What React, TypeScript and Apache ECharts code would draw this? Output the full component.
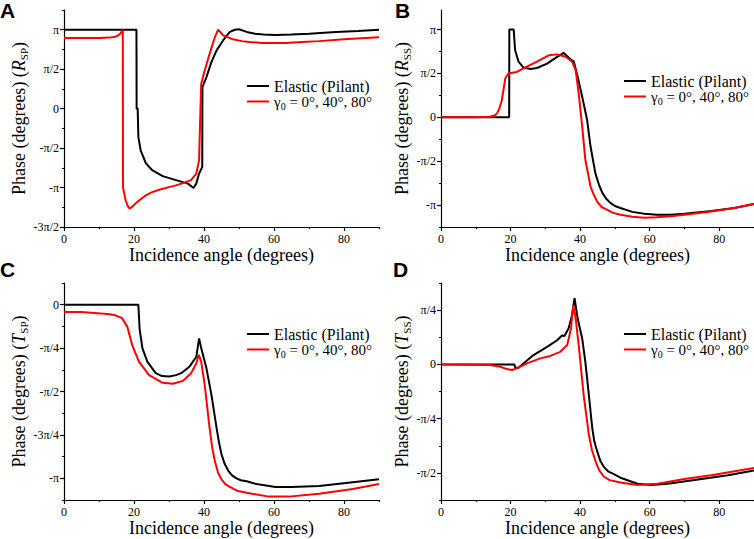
import React, { useEffect, useRef } from 'react';
import * as echarts from 'echarts';

const ELASTIC = 'Elastic (Pilant)';
const GAMMA = 'γ0 = 0°, 40°, 80°';
const X_TITLE = 'Incidence angle (degrees)';

const xMajorTicks = [0, 20, 40, 60, 80];
const xMinorTicks = [10, 30, 50, 70, 90];
const xTickLabels = ['0', '20', '40', '60', '80'];

// Panel A: R_SP
const aRange = [-270, 225];
const aMajorTicks = [-270, -180, -90, 0, 90, 180];
const aTickLabels = ['-3π/2', '-π', '-π/2', '0', 'π/2', 'π'];
const aMinorTicks = [-225, -135, -45, 45, 135, 225];
const rspElastic: number[][] = [
  [0, 180], [20.7, 180], [20.75, 0], [21.05, 0], [21.25, -65], [21.9, -95], [23.4, -125], [25.3, -141],
  [28.2, -154], [32, -163], [35.4, -171], [37, -181], [37.8, -171], [38.6, -148], [39.5, -133], [39.55, 49],
  [40.7, 72], [42.1, 106], [43.6, 133], [45.5, 156], [47.4, 175], [48.8, 180], [50, 181], [52.2, 175],
  [54.6, 171], [57, 169], [60.4, 168], [65, 169], [70, 171], [77.7, 175], [84, 177], [90, 180],
];
const rspGamma: number[][] = [
  [0, 161], [10, 161], [13, 162], [14.7, 164], [15.5, 167], [16.2, 172], [16.8, 180], [16.85, -179],
  [17.6, -209], [18.2, -222], [18.75, -228], [19.5, -224], [20.5, -216], [22, -206], [23.4, -198], [25, -191],
  [27.2, -185], [30, -179], [32, -175], [34, -170], [36.3, -163], [37.8, -148], [38.6, -118], [38.9, -27],
  [39.2, 57], [40.2, 87], [41.6, 125], [43.1, 163], [44.05, 180], [45.5, 167], [47.9, 159], [50.8, 154],
  [53, 152], [56.5, 150], [60, 150], [63.3, 150], [68, 152], [72.9, 154], [80, 158], [90, 163],
];

// Panel B: R_SS
const bRange = [-225, 220];
const bMajorTicks = [-180, -90, 0, 90, 180];
const bTickLabels = ['-π', '-π/2', '0', 'π/2', 'π'];
const bMinorTicks = [-225, -135, -45, 45, 135];
const rssElastic: number[][] = [
  [0, 0], [19.6, 0], [19.65, 180], [20.9, 180], [21.3, 138], [22.3, 114], [23.7, 102], [25.7, 99],
  [27.6, 101], [30.5, 110], [33.4, 124], [35.3, 132], [37.2, 119], [38.2, 114], [39.3, 83], [40.6, 42],
  [42, -5], [43, -60], [44.4, -115], [45.4, -138], [46.4, -155], [47.5, -167], [48.8, -176], [50, -182],
  [51.6, -186], [55, -194], [58.5, -198], [62, -200], [66, -200], [70, -198], [77.7, -192], [84.4, -186], [90, -178],
];
const rssGamma: number[][] = [
  [0, 0], [10, 0], [12, 0.5], [14.1, 1], [15.5, 4], [16.1, 8], [16.8, 18], [17.5, 35], [18, 58],
  [18.5, 80], [19.4, 90], [21.8, 93], [24.7, 104], [27.6, 114], [31, 127], [33.4, 129], [35.8, 124],
  [37.7, 114], [38.7, 97], [39.6, 49], [40.6, -19], [41.5, -87], [43, -142], [44, -160], [44.9, -173],
  [46.2, -184], [47.8, -190], [49.5, -196], [51.6, -200], [55, -204], [58.5, -206], [62, -205], [66, -203],
  [70, -200], [77.7, -193], [84.4, -186], [90, -178],
];

// Panel C: T_SP
const cRange = [-202.5, 22.5];
const cMajorTicks = [-180, -135, -90, -45, 0];
const cTickLabels = ['-π', '-3π/4', '-π/2', '-π/4', '0'];
const cMinorTicks = [-202.5, -157.5, -112.5, -67.5, -22.5, 22.5];
const tspElastic: number[][] = [
  [0, 0], [21.25, 0], [21.6, -25], [22.4, -45], [23.8, -59], [26.2, -71], [28, -74], [30.1, -74.5],
  [32, -73], [33.5, -71], [35.9, -64], [37.8, -54], [38.6, -35], [39.2, -45], [40.7, -66], [42.1, -93],
  [43.6, -128], [44.3, -143], [45, -155], [45.9, -165], [46.9, -172], [48, -177], [49.3, -180], [50.5, -182],
  [52.2, -183], [55, -186], [60.4, -189], [65, -189], [72.9, -188], [82.5, -184], [90, -181],
];
const tspGamma: number[][] = [
  [0, -7.5], [5, -7.5], [10.4, -9], [13, -10], [14.7, -11], [16.6, -14], [18.1, -23], [19.5, -42],
  [21.4, -59], [24.3, -73], [28.2, -81], [31.1, -82], [34, -79], [36.3, -71], [37.8, -61], [38.5, -52],
  [39.2, -59], [40.2, -83], [41.6, -128], [42.3, -147], [43.1, -162], [44, -174], [45, -181], [46.1, -186],
  [47.4, -189], [49.5, -193], [52.2, -195], [58.5, -199], [64.2, -199], [72.9, -196], [82.5, -191], [90, -186],
];

// Panel D: T_SS
const dRange = [-112.5, 67.5];
const dMajorTicks = [-90, -45, 0, 45];
const dTickLabels = ['-π/2', '-π/4', '0', 'π/4'];
const dMinorTicks = [-112.5, -67.5, -22.5, 22.5, 67.5];
const tssElastic: number[][] = [
  [0, 0], [21.06, 0], [21.4, -2.8], [22.3, -2.8], [23.7, 0.8], [26.6, 7.7], [30.5, 14.5], [33.4, 20],
  [34.8, 24], [35.5, 23.5], [36.7, 30], [37.7, 41], [38.4, 55], [39.3, 38], [40.6, 21.5], [41.5, 2],
  [42.5, -25], [43.5, -53], [44.1, -64], [44.9, -72], [45.8, -80], [46.8, -85], [48.2, -89], [49.7, -91],
  [51.6, -94], [56.5, -99], [60.4, -100], [65.2, -99], [72.9, -96], [82.5, -92], [90, -88],
];
const tssGamma: number[][] = [
  [0, 0], [14.1, -0.5], [17, -2], [19, -3.9], [20.4, -4.7], [21.8, -3.3], [24.7, 0.8], [28.6, 5],
  [31.4, 7], [34.3, 10.4], [36.3, 16], [37.4, 30], [38, 49], [38.6, 41], [39.6, 16], [41, -25],
  [42.5, -58], [43.4, -71], [44.4, -80], [45.5, -88], [46.8, -93], [48.5, -96], [51.6, -98], [56.5, -100],
  [62.3, -99], [70, -95], [77.7, -92], [90, -86],
];

const SERIF = '"Liberation Serif", "Times New Roman", serif';
const SANS = '"Liberation Sans", Arial, sans-serif';

type Panel = {
  letter: string;
  sub: string;
  sym: string;
  range: number[];
  majors: number[];
  labels: string[];
  minors: number[];
  elastic: number[][];
  gamma: number[][];
  grid: { left: number; top: number; width: number; height: number };
  legend: { left: number; top: number };
  letterPos: { left: number; top: number };
};

const panels: Panel[] = [
  { letter: 'A', sym: 'R', sub: 'SP', range: aRange, majors: aMajorTicks, labels: aTickLabels, minors: aMinorTicks,
    elastic: rspElastic, gamma: rspGamma, grid: { left: 64, top: 10, width: 315, height: 217 },
    legend: { left: 247, top: 78 }, letterPos: { left: 0, top: 0 } },
  { letter: 'B', sym: 'R', sub: 'SS', range: bRange, majors: bMajorTicks, labels: bTickLabels, minors: bMinorTicks,
    elastic: rssElastic, gamma: rssGamma, grid: { left: 441, top: 10, width: 315, height: 217 },
    legend: { left: 624, top: 73 }, letterPos: { left: 395, top: 0 } },
  { letter: 'C', sym: 'T', sub: 'SP', range: cRange, majors: cMajorTicks, labels: cTickLabels, minors: cMinorTicks,
    elastic: tspElastic, gamma: tspGamma, grid: { left: 64, top: 283, width: 315, height: 217 },
    legend: { left: 247, top: 326 }, letterPos: { left: 0, top: 259 } },
  { letter: 'D', sym: 'T', sub: 'SS', range: dRange, majors: dMajorTicks, labels: dTickLabels, minors: dMinorTicks,
    elastic: tssElastic, gamma: tssGamma, grid: { left: 441, top: 283, width: 315, height: 217 },
    legend: { left: 624, top: 326 }, letterPos: { left: 393, top: 259 } },
];

const lineStyleAxis = { color: '#000', width: 1.2 };

function axisPair(dim: 'x' | 'y', gridIndex: number, min: number, max: number, majors: number[], labels: string[], minors: number[], name: string, nameRich: any) {
  const labelMap = new Map<number, string>(majors.map((v, i) => [v, labels[i]]));
  const position = dim === 'x' ? 'bottom' : 'left';
  const major: any = {
    type: 'value', gridIndex, min, max, position,
    name, nameLocation: 'middle', nameGap: dim === 'x' ? 19 : 21,
    nameTextStyle: { fontFamily: SERIF, fontSize: 18, color: '#000', lineHeight: dim === 'x' ? 18 : 22, rich: nameRich },
    axisLine: { show: true, onZero: false, lineStyle: lineStyleAxis },
    axisTick: { show: true, inside: false, customValues: majors, length: 4, lineStyle: lineStyleAxis },
    axisLabel: {
      show: true, customValues: majors, formatter: (v: number) => labelMap.get(v) ?? '',
      margin: dim === 'x' ? 6 : 5, fontFamily: SERIF, fontSize: 12, color: '#000',
      showMinLabel: true, showMaxLabel: true, hideOverlap: false,
    },
    splitLine: { show: false },
    minorTick: { show: false },
  };
  const minor: any = {
    type: 'value', gridIndex, min, max, position,
    axisLine: { show: false, onZero: false },
    axisTick: { show: true, inside: false, customValues: minors, length: 2, lineStyle: lineStyleAxis },
    axisLabel: { show: false },
    splitLine: { show: false },
  };
  return [major, minor];
}

export default function App() {
  const ref = useRef<HTMLDivElement>(null);
  useEffect(() => {
    if (!ref.current) return;
    const chart = echarts.init(ref.current, undefined, { renderer: 'svg' });
    const xAxis: any[] = [];
    const yAxis: any[] = [];
    const series: any[] = [];
    const legend: any[] = [];
    const graphic: any[] = [];
    panels.forEach((p, g) => {
      xAxis.push(...axisPair('x', g, 0, 90, xMajorTicks, xTickLabels, xMinorTicks, X_TITLE, undefined));
      const yName = `{n|Phase (degrees) (}{i|${p.sym}}{s|${p.sub}}{n|)}`;
      const rich = {
        n: { fontFamily: SERIF, fontSize: 18, color: '#000', lineHeight: 22 },
        i: { fontFamily: SERIF, fontSize: 18, fontStyle: 'italic', color: '#000', lineHeight: 22 },
        s: { fontFamily: SERIF, fontSize: 11, color: '#000', lineHeight: 12, verticalAlign: 'bottom' },
      };
      yAxis.push(...axisPair('y', g, p.range[0], p.range[1], p.majors, p.labels, p.minors, yName, rich));
      series.push({
        type: 'line', name: ELASTIC, xAxisIndex: 2 * g, yAxisIndex: 2 * g, data: p.elastic,
        symbol: 'none', showSymbol: false, lineStyle: { color: '#000', width: 2 }, itemStyle: { color: '#000' },
        clip: true, z: 2,
      });
      series.push({
        type: 'line', name: GAMMA, xAxisIndex: 2 * g, yAxisIndex: 2 * g, data: p.gamma,
        symbol: 'none', showSymbol: false, lineStyle: { color: '#ff0000', width: 2 }, itemStyle: { color: '#ff0000' },
        clip: true, z: 3,
      });
      legend.push({
        data: [ELASTIC, GAMMA], orient: 'vertical', left: p.legend.left, top: p.legend.top,
        icon: 'rect', itemWidth: 22, itemHeight: 2, itemGap: 0, padding: 0, selectedMode: false,
        formatter: (name: string) => (name === GAMMA ? '{g|γ}{s|0}{g| = 0°, 40°, 80°}' : `{n|${name}}`),
        textStyle: {
          color: '#000', fontFamily: SERIF, fontSize: 16,
          rich: {
            n: { fontFamily: SERIF, fontSize: 16, color: '#000', lineHeight: 20 },
            g: { fontFamily: SERIF, fontSize: 15, color: '#000', lineHeight: 20 },
            s: { fontFamily: SERIF, fontSize: 10, color: '#000', lineHeight: 10, verticalAlign: 'bottom' },
          },
        },
      });
      graphic.push({
        type: 'text', left: p.letterPos.left, top: p.letterPos.top,
        style: { text: p.letter, font: `bold 21px ${SANS}`, fill: '#000' },
      });
    });
    chart.setOption({
      animation: false,
      backgroundColor: '#fff',
      grid: panels.map((p) => ({ ...p.grid, containLabel: false })),
      xAxis, yAxis, series, legend, graphic,
    });
    return () => chart.dispose();
  }, []);
  return <div ref={ref} style={{ position: 'fixed', left: 0, top: 0, width: 754, height: 539 }} />;
}
